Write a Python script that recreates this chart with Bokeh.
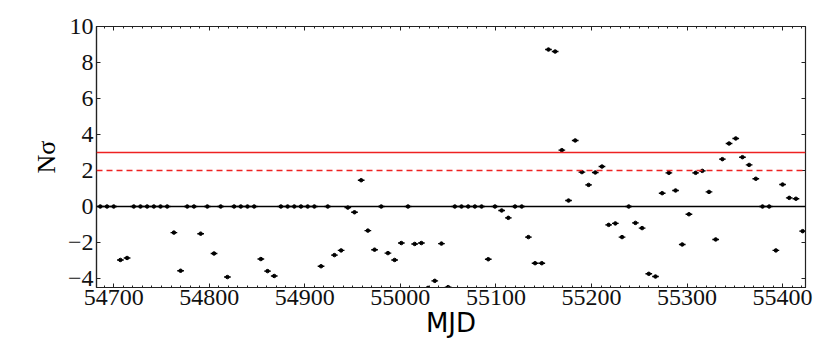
import numpy as np
from bokeh.plotting import figure
from bokeh.models import LinearAxis, Span, Range1d, FixedTicker, ColumnDataSource, CustomJSTickFormatter
from bokeh.embed import file_html
from bokeh.resources import INLINE

# Weekly bins (MJD)
mjd = [54686, 54693, 54700, 54707, 54714, 54721, 54728, 54735, 54742, 54749,
       54756, 54763, 54770, 54777, 54784, 54791, 54798, 54805, 54812, 54819,
       54826, 54833, 54840, 54847, 54854, 54861, 54868, 54875, 54882, 54889,
       54896, 54903, 54910, 54917, 54924, 54931, 54938, 54945, 54952, 54959,
       54966, 54973, 54980, 54987, 54994, 55001, 55008, 55015, 55022, 55029,
       55036, 55043, 55050, 55057, 55064, 55071, 55078, 55085, 55092, 55099,
       55106, 55113, 55120, 55127, 55134, 55141, 55148, 55155, 55162, 55169,
       55176, 55183, 55190, 55197, 55204, 55211, 55218, 55225, 55232, 55239,
       55246, 55253, 55260, 55267, 55274, 55281, 55288, 55295, 55302, 55309,
       55316, 55323, 55330, 55337, 55344, 55351, 55358, 55365, 55372, 55379,
       55386, 55393, 55400, 55407, 55414, 55421]

nsigma = [0, 0, 0, -2.97, -2.86, 0, 0, 0, 0, 0,
          0, -1.45, -3.57, 0, 0, -1.51, 0, -2.61, 0, -3.92,
          0, 0, 0, 0, -2.92, -3.59, -3.86, 0, 0, 0,
          0, 0, 0, -3.32, 0, -2.70, -2.44, -0.06, -0.32, 1.46,
          -1.34, -2.40, 0, -2.59, -2.97, -2.03, 0, -2.08, -2.03, -4.52,
          -4.13, -2.06, -4.48, 0, 0, 0, 0, 0, -2.93, 0,
          -0.22, -0.63, 0, 0, -1.70, -3.15, -3.15, 8.72, 8.61, 3.13,
          0.33, 3.67, 1.91, 1.20, 1.89, 2.22, -1.02, -0.94, -1.70, 0,
          -0.91, -1.20, -3.74, -3.89, 0.74, 1.87, 0.89, -2.11, -0.43, 1.87,
          1.98, 0.81, -1.83, 2.63, 3.50, 3.78, 2.74, 2.31, 1.54, 0,
          0, -2.44, 1.22, 0.48, 0.43, -1.37]

bin_halfwidth = [3.5] * len(mjd)

x_ticks = [54700, 54800, 54900, 55000, 55100, 55200, 55300, 55400]
x_minor_ticks = list(range(54690, 55421, 10))
y_ticks = [-4, -2, 0, 2, 4, 6, 8, 10]
y_tick_labels = {-4: "\u22124", -2: "\u22122", 0: "0", 2: "2", 4: "4", 6: "6", 8: "8", 10: "10"}

threshold_solid = 3
threshold_dashed = 2

x_arr = np.array(mjd, dtype=float)
hw = np.array(bin_halfwidth)
src = ColumnDataSource(dict(x=x_arr, y=nsigma, x0=x_arr - hw, x1=x_arr + hw))

p = figure(output_backend="svg", toolbar_location=None,
           frame_width=709, frame_height=261,
           min_border_left=96, min_border_right=21, min_border_top=26, min_border_bottom=53,
           x_range=Range1d(54682, 55424), y_range=Range1d(-4.5, 10),
           x_axis_location="below", y_axis_location="left")
p.xgrid.visible = False
p.ygrid.visible = False
p.outline_line_color = "#222222"
p.outline_line_width = 1.2
p.background_fill_color = "white"
p.border_fill_color = "white"

serif = "Liberation Serif"
ink = "#222222"

xa = p.xaxis[0]
xa.ticker = FixedTicker(ticks=x_ticks, minor_ticks=x_minor_ticks)
xa.axis_label = "MJD"
xa.axis_label_text_font = "DejaVu Sans"
xa.axis_label_text_font_size = "26px"
xa.axis_label_text_font_style = "normal"
xa.axis_label_text_color = "black"
xa.axis_label_standoff = 0
xa.major_label_text_font = serif
xa.major_label_text_font_size = "24px"
xa.major_label_text_color = "#111111"
xa.major_label_standoff = 2

ya = p.yaxis[0]
ya.ticker = FixedTicker(ticks=y_ticks, minor_ticks=[])
ya.major_label_overrides = y_tick_labels
ya.axis_label = "N\u03c3"
ya.axis_label_text_font = serif
ya.axis_label_text_font_size = "26px"
ya.axis_label_text_font_style = "normal"
ya.axis_label_text_color = "black"
ya.axis_label_standoff = 4
ya.major_label_text_font = serif
ya.major_label_text_font_size = "24px"
ya.major_label_text_color = "#111111"
ya.major_label_standoff = 3

for ax in (xa, ya):
    ax.major_tick_in = 4
    ax.major_tick_out = 0
    ax.minor_tick_in = 2
    ax.minor_tick_out = 0
    ax.axis_line_color = ink
    ax.axis_line_width = 1.2
    ax.major_tick_line_color = ink
    ax.minor_tick_line_color = ink

blank = CustomJSTickFormatter(code="return '';")
top = LinearAxis(ticker=FixedTicker(ticks=x_ticks, minor_ticks=x_minor_ticks),
                 formatter=blank, major_label_standoff=0,
                 major_tick_in=4, major_tick_out=0, minor_tick_in=2, minor_tick_out=0,
                 axis_line_color=ink, major_tick_line_color=ink,
                 minor_tick_line_color=ink)
p.add_layout(top, "above")
right = LinearAxis(ticker=FixedTicker(ticks=y_ticks, minor_ticks=[]),
                   formatter=blank, major_label_standoff=0,
                   major_tick_in=4, major_tick_out=0, minor_tick_in=0, minor_tick_out=0,
                   axis_line_color=ink, major_tick_line_color=ink,
                   minor_tick_line_color=None)
p.add_layout(right, "right")

p.add_layout(Span(location=threshold_solid, dimension="width", line_color="#ee2222", line_width=1.3))
p.add_layout(Span(location=threshold_dashed, dimension="width", line_color="#ee2222", line_width=1.3,
                  line_dash="6 4"))
p.add_layout(Span(location=0, dimension="width", line_color="black", line_width=1.3))

p.segment(x0="x0", y0="y", x1="x1", y1="y", source=src, line_color="black", line_width=1.4)
p.scatter(x="x", y="y", source=src, size=3.5, fill_color="black", line_color="black")

open("out.html", "w").write(file_html(p, INLINE))
